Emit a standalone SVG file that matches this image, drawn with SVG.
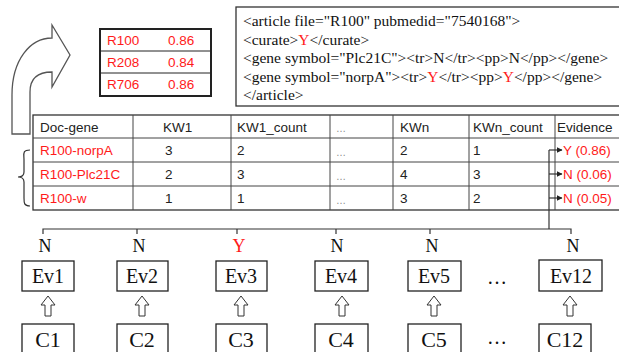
<svg xmlns="http://www.w3.org/2000/svg" width="619" height="352" viewBox="0 0 619 352">
<defs>
<style>
.sans{font-family:"Liberation Sans",Arial,sans-serif;font-size:13.5px;fill:#222}
.serif{font-family:"Liberation Serif","Times New Roman",serif;fill:#111}
.xml{font-size:15.5px}
.lbl{font-size:18px;text-anchor:middle}
.evt{font-size:20px;text-anchor:middle}
.ct{font-size:22px;text-anchor:middle}
.box{fill:#fff;stroke:#222;stroke-width:1.3}
.grid{stroke:#444;stroke-width:1;fill:none}
.conn{stroke:#333;stroke-width:1.2;fill:none}
.harrow{fill:#fff;stroke:#333;stroke-width:1}
.dots{font-family:"Liberation Sans",Arial,sans-serif;font-size:10px;fill:#888}
.red{fill:#ff1a1a}
</style>
<marker id="ah" viewBox="0 0 6 6" refX="5.5" refY="3" markerWidth="5" markerHeight="5" orient="auto">
<path d="M0,0 L6,3 L0,6 Z" fill="#222"/>
</marker>
<path id="up" d="M-3,20 L-3,9 L-7,9 L0,0 L7,9 L3,9 L3,20 Z"/>
</defs>

<g id="bigarrow">
<path d="M12,134 L12,95 C12,60 30,38 52,38 L52,25 L70,55 L52,87 L52,72 C38,72 30,78 30,92 L30,134 Z" fill="#fff" stroke="#555" stroke-width="1.3"/>
</g>

<g id="scores">
<rect x="100" y="29" width="111" height="67" fill="#fff" stroke="#222" stroke-width="2"/>
<line x1="100" y1="51" x2="211" y2="51" stroke="#222" stroke-width="1"/>
<line x1="100" y1="73" x2="211" y2="73" stroke="#222" stroke-width="1"/>
<text class="sans red" x="107" y="45">R100</text><text class="sans red" x="168" y="45">0.86</text>
<text class="sans red" x="107" y="67">R208</text><text class="sans red" x="168" y="67">0.84</text>
<text class="sans red" x="107" y="89">R706</text><text class="sans red" x="168" y="89">0.86</text>
</g>

<g id="xml">
<rect x="236" y="7" width="390" height="99" fill="#fff" stroke="#333" stroke-width="1.3"/>
<text class="serif xml" x="243" y="26">&lt;article file="R100" pubmedid="7540168"&gt;</text>
<text class="serif xml" x="243" y="45">&lt;curate&gt;<tspan class="red">Y</tspan>&lt;/curate&gt;</text>
<text class="serif xml" x="243" y="63">&lt;gene symbol="Plc21C"&gt;&lt;tr&gt;N&lt;/tr&gt;&lt;pp&gt;N&lt;/pp&gt;&lt;/gene&gt;</text>
<text class="serif xml" x="243" y="82">&lt;gene symbol="norpA"&gt;&lt;tr&gt;<tspan class="red">Y</tspan>&lt;/tr&gt;&lt;pp&gt;<tspan class="red">Y</tspan>&lt;/pp&gt;&lt;/gene&gt;</text>
<text class="serif xml" x="243" y="100">&lt;/article&gt;</text>
</g>

<g id="table">
<rect x="33" y="115" width="600" height="95" fill="#fff" stroke="#333" stroke-width="1.3"/>
<line class="grid" x1="33" y1="138" x2="619" y2="138"/>
<line class="grid" x1="33" y1="162" x2="619" y2="162"/>
<line class="grid" x1="33" y1="186" x2="619" y2="186"/>
<line class="grid" x1="133" y1="115" x2="133" y2="210"/>
<line class="grid" x1="231" y1="115" x2="231" y2="210"/>
<line class="grid" x1="330" y1="115" x2="330" y2="210"/>
<line class="grid" x1="393" y1="115" x2="393" y2="210"/>
<line class="grid" x1="469" y1="115" x2="469" y2="210"/>
<line class="grid" x1="555" y1="115" x2="555" y2="210"/>
<text class="sans" x="40" y="132">Doc-gene</text>
<text class="sans" x="163" y="132">KW1</text>
<text class="sans" x="237" y="132">KW1_count</text>
<text class="dots" x="336" y="132">…</text>
<text class="sans" x="400" y="132">KWn</text>
<text class="sans" x="473" y="132">KWn_count</text>
<text class="sans" x="557" y="132">Evidence</text>

<text class="sans red" x="40" y="155">R100-norpA</text>
<text class="sans" x="165" y="155">3</text>
<text class="sans" x="237" y="155">2</text>
<text class="dots" x="336" y="156">…</text>
<text class="sans" x="400" y="155">2</text>
<text class="sans" x="473" y="155">1</text>
<text class="sans red" x="563" y="155">Y (0.86)</text>

<text class="sans red" x="40" y="179">R100-Plc21C</text>
<text class="sans" x="165" y="179">2</text>
<text class="sans" x="237" y="179">3</text>
<text class="dots" x="336" y="180">…</text>
<text class="sans" x="400" y="179">4</text>
<text class="sans" x="473" y="179">3</text>
<text class="sans red" x="563" y="179">N (0.06)</text>

<text class="sans red" x="40" y="203">R100-w</text>
<text class="sans" x="165" y="203">1</text>
<text class="sans" x="237" y="203">1</text>
<text class="dots" x="336" y="204">…</text>
<text class="sans" x="400" y="203">3</text>
<text class="sans" x="473" y="203">2</text>
<text class="sans red" x="563" y="203">N (0.05)</text>
</g>

<g id="brace">
<path d="M30,150 C22,150 24,154 24,160 L24,172 C24,176 22,177 18,177 C22,177 24,178 24,182 L24,198 C24,203 24,206 30,206" class="conn" stroke="#444"/>
</g>

<g id="connectors">
<path class="conn" d="M549,150 L549,229"/>
<line class="conn" x1="549" y1="150" x2="562" y2="150" marker-end="url(#ah)"/>
<line class="conn" x1="549" y1="174" x2="562" y2="174" marker-end="url(#ah)"/>
<line class="conn" x1="549" y1="198" x2="562" y2="198" marker-end="url(#ah)"/>
<path class="conn" d="M43,234 L43,229 L571,229 L571,234"/>
<line class="conn" x1="137" y1="229" x2="137" y2="234"/>
<line class="conn" x1="237" y1="229" x2="237" y2="234"/>
<line class="conn" x1="336" y1="229" x2="336" y2="234"/>
<line class="conn" x1="430" y1="229" x2="430" y2="234"/>
<g class="harrow">
<use href="#up" x="48" y="296"/>
<use href="#up" x="142" y="296"/>
<use href="#up" x="241" y="296"/>
<use href="#up" x="342" y="296"/>
<use href="#up" x="434" y="296"/>
<use href="#up" x="570" y="296"/>
</g>
</g>

<g id="labels">
<text class="serif lbl" x="45" y="252">N</text>
<text class="serif lbl" x="139" y="252">N</text>
<text class="serif lbl red" x="239" y="252">Y</text>
<text class="serif lbl" x="337" y="252">N</text>
<text class="serif lbl" x="432" y="252">N</text>
<text class="serif lbl" x="573" y="252">N</text>
</g>

<g id="ev1"><rect class="box" x="22" y="261" width="52" height="30"/><text class="serif evt" x="48" y="283">Ev1</text></g>
<g id="ev2"><rect class="box" x="117" y="261" width="51" height="30"/><text class="serif evt" x="142" y="283">Ev2</text></g>
<g id="ev3"><rect class="box" x="216" y="261" width="51" height="30"/><text class="serif evt" x="241" y="283">Ev3</text></g>
<g id="ev4"><rect class="box" x="315" y="261" width="53" height="30"/><text class="serif evt" x="341" y="283">Ev4</text></g>
<g id="ev5"><rect class="box" x="408" y="261" width="53" height="30"/><text class="serif evt" x="434" y="283">Ev5</text></g>
<g id="evdots"><text class="serif evt" x="497" y="284">…</text></g>
<g id="ev12"><rect class="box" x="539" y="260" width="63" height="31"/><text class="serif evt" x="571" y="283">Ev12</text></g>

<g id="c1"><rect class="box" x="22" y="324" width="52" height="40"/><text class="serif ct" x="48" y="347">C1</text></g>
<g id="c2"><rect class="box" x="117" y="324" width="51" height="40"/><text class="serif ct" x="142" y="347">C2</text></g>
<g id="c3"><rect class="box" x="216" y="324" width="51" height="40"/><text class="serif ct" x="241" y="347">C3</text></g>
<g id="c4"><rect class="box" x="315" y="324" width="53" height="40"/><text class="serif ct" x="341" y="347">C4</text></g>
<g id="c5"><rect class="box" x="408" y="324" width="53" height="40"/><text class="serif ct" x="434" y="347">C5</text></g>
<g id="cdots"><text class="serif evt" x="497" y="344">…</text></g>
<g id="c12"><rect class="box" x="539" y="324" width="52" height="40"/><text class="serif ct" x="565" y="347">C12</text></g>
</svg>
